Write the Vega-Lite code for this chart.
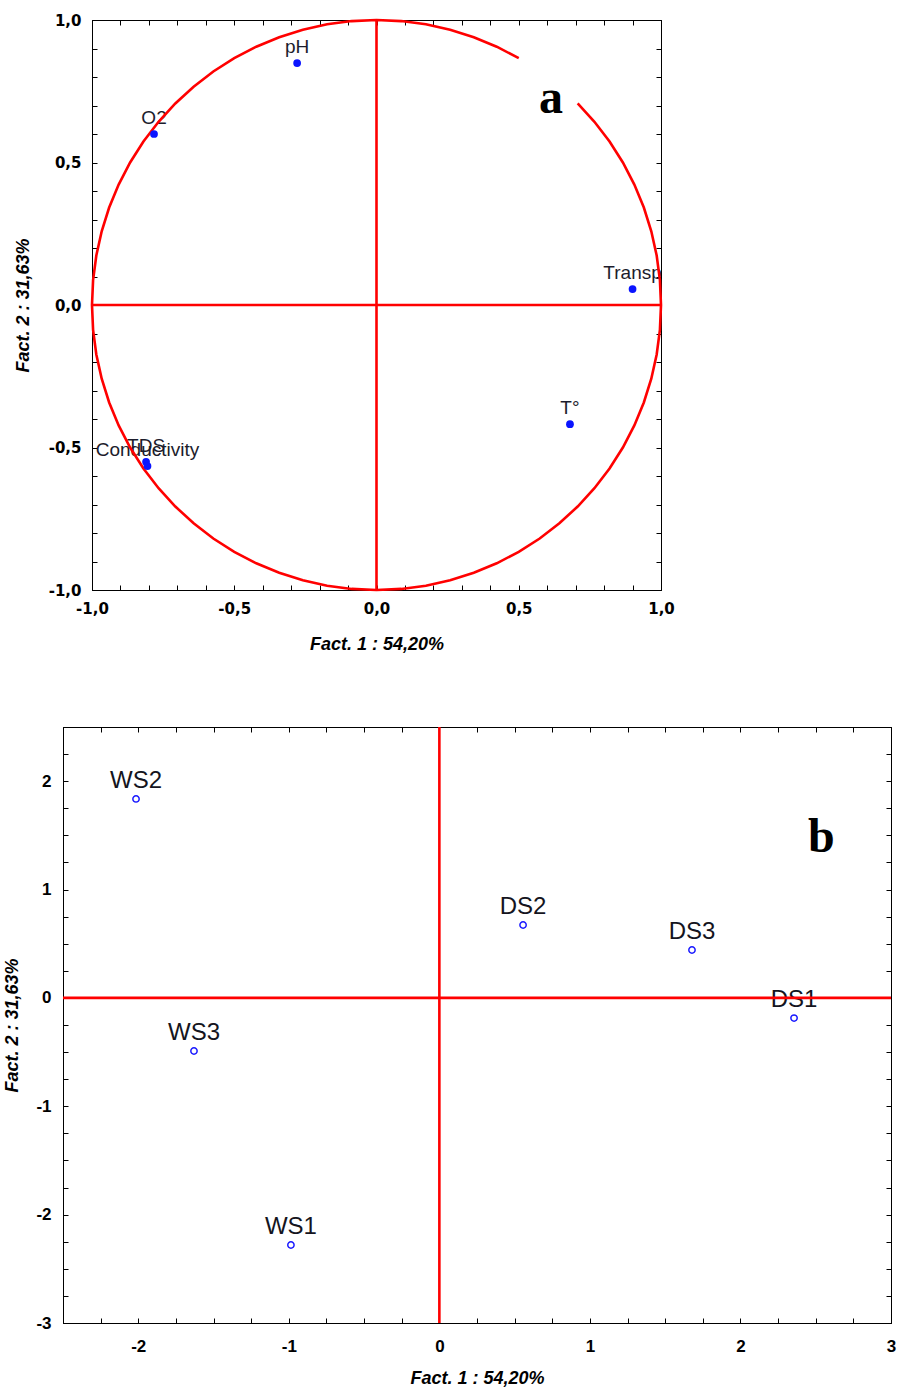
{
  "$schema": "https://vega.github.io/schema/vega-lite/v6.json",
  "background": "white",
  "padding": {"left": 3, "top": 12, "right": 0, "bottom": 0},
  "config": {
    "font": "Liberation Sans",
    "view": {"stroke": "black", "strokeWidth": 1},
    "axis": {"grid": false, "domainColor": "black", "tickColor": "black", "tickSize": -5, "labelFont": "Liberation Sans", "labelFontWeight": "bold", "labelColor": "black", "titleFont": "Liberation Sans", "titleFontWeight": "bold", "titleFontStyle": "italic", "titleColor": "black", "labelFlush": false, "labelOverlap": false, "labelBound": false}
  },
  "datasets": {
    "circle": [
      {"i":0,"x":0.5,"y":0.866},{"i":1,"x":0.4226,"y":0.9063},{"i":2,"x":0.342,"y":0.9397},{"i":3,"x":0.2588,"y":0.9659},{"i":4,"x":0.1736,"y":0.9848},{"i":5,"x":0.0872,"y":0.9962},{"i":6,"x":0,"y":1},{"i":7,"x":-0.0872,"y":0.9962},{"i":8,"x":-0.1736,"y":0.9848},{"i":9,"x":-0.2588,"y":0.9659},{"i":10,"x":-0.342,"y":0.9397},{"i":11,"x":-0.4226,"y":0.9063},{"i":12,"x":-0.5,"y":0.866},{"i":13,"x":-0.5736,"y":0.8192},{"i":14,"x":-0.6428,"y":0.766},{"i":15,"x":-0.7071,"y":0.7071},{"i":16,"x":-0.766,"y":0.6428},{"i":17,"x":-0.8192,"y":0.5736},{"i":18,"x":-0.866,"y":0.5},{"i":19,"x":-0.9063,"y":0.4226},{"i":20,"x":-0.9397,"y":0.342},{"i":21,"x":-0.9659,"y":0.2588},{"i":22,"x":-0.9848,"y":0.1736},{"i":23,"x":-0.9962,"y":0.0872},{"i":24,"x":-1,"y":0},{"i":25,"x":-0.9962,"y":-0.0872},{"i":26,"x":-0.9848,"y":-0.1736},{"i":27,"x":-0.9659,"y":-0.2588},{"i":28,"x":-0.9397,"y":-0.342},{"i":29,"x":-0.9063,"y":-0.4226},{"i":30,"x":-0.866,"y":-0.5},{"i":31,"x":-0.8192,"y":-0.5736},{"i":32,"x":-0.766,"y":-0.6428},{"i":33,"x":-0.7071,"y":-0.7071},{"i":34,"x":-0.6428,"y":-0.766},{"i":35,"x":-0.5736,"y":-0.8192},{"i":36,"x":-0.5,"y":-0.866},{"i":37,"x":-0.4226,"y":-0.9063},{"i":38,"x":-0.342,"y":-0.9397},{"i":39,"x":-0.2588,"y":-0.9659},{"i":40,"x":-0.1736,"y":-0.9848},{"i":41,"x":-0.0872,"y":-0.9962},{"i":42,"x":0,"y":-1},{"i":43,"x":0.0872,"y":-0.9962},{"i":44,"x":0.1736,"y":-0.9848},{"i":45,"x":0.2588,"y":-0.9659},{"i":46,"x":0.342,"y":-0.9397},{"i":47,"x":0.4226,"y":-0.9063},{"i":48,"x":0.5,"y":-0.866},{"i":49,"x":0.5736,"y":-0.8192},{"i":50,"x":0.6428,"y":-0.766},{"i":51,"x":0.7071,"y":-0.7071},{"i":52,"x":0.766,"y":-0.6428},{"i":53,"x":0.8192,"y":-0.5736},{"i":54,"x":0.866,"y":-0.5},{"i":55,"x":0.9063,"y":-0.4226},{"i":56,"x":0.9397,"y":-0.342},{"i":57,"x":0.9659,"y":-0.2588},{"i":58,"x":0.9848,"y":-0.1736},{"i":59,"x":0.9962,"y":-0.0872},{"i":60,"x":1,"y":0},{"i":61,"x":0.9962,"y":0.0872},{"i":62,"x":0.9848,"y":0.1736},{"i":63,"x":0.9659,"y":0.2588},{"i":64,"x":0.9397,"y":0.342},{"i":65,"x":0.9063,"y":0.4226},{"i":66,"x":0.866,"y":0.5},{"i":67,"x":0.8192,"y":0.5736},{"i":68,"x":0.766,"y":0.6428},{"i":69,"x":0.7071,"y":0.7071}
    ],
    "vars": [
      {"name":"pH","x":-0.279,"y":0.849},
      {"name":"O2","x":-0.782,"y":0.6},
      {"name":"Transp","x":0.9,"y":0.056},
      {"name":"T°","x":0.68,"y":-0.418},
      {"name":"TDS","x":-0.81,"y":-0.55},
      {"name":"Conductivity","x":-0.805,"y":-0.565}
    ],
    "sites": [
      {"name":"WS2","x":-2.015,"y":1.836},
      {"name":"DS2","x":0.556,"y":0.673},
      {"name":"DS3","x":1.678,"y":0.442},
      {"name":"DS1","x":2.356,"y":-0.186},
      {"name":"WS3","x":-1.63,"y":-0.49},
      {"name":"WS1","x":-0.986,"y":-2.28}
    ]
  },
  "spacing": 63,
  "vconcat": [
    {
      "spacing": 1,
      "bounds": "flush",
      "hconcat": [
        {
          "width": 28, "height": 570,
          "view": {"stroke": null},
          "data": {"values": [{"s": ""}]},
          "mark": {"type": "text"},
          "encoding": {"text": {"field": "s"}}
        },
        {
          "width": 569, "height": 570,
          "resolve": {"axis": {"x": "independent", "y": "independent"}},
          "layer": [
            {
              "data": {"name": "vars"},
              "mark": {"type": "text", "fontSize": 19, "color": "#1c1c2c", "dy": -10, "baseline": "alphabetic", "align": "center", "clip": true},
              "encoding": {
                "x": {"field": "x", "type": "quantitative", "scale": {"domain": [-1, 1], "nice": false, "zero": false},
                  "axis": {"orient": "bottom", "values": [-1,-0.9,-0.8,-0.7,-0.6,-0.5,-0.4,-0.3,-0.2,-0.1,0,0.1,0.2,0.3,0.4,0.5,0.6,0.7,0.8,0.9,1],
                    "labelExpr": "abs(datum.value*2 - round(datum.value*2)) < 0.001 ? replace(replace(format(datum.value, '.1f'), '−', '-'), '.', ',') : ''",
                    "labelFont": "DejaVu Sans", "labelFontSize": 15, "labelPadding": 16, "title": "Fact. 1 : 54,20%", "titleFontSize": 18, "titlePadding": 19}},
                "y": {"field": "y", "type": "quantitative", "scale": {"domain": [-1, 1], "nice": false, "zero": false},
                  "axis": {"orient": "left", "values": [-1,-0.9,-0.8,-0.7,-0.6,-0.5,-0.4,-0.3,-0.2,-0.1,0,0.1,0.2,0.3,0.4,0.5,0.6,0.7,0.8,0.9,1],
                    "labelExpr": "abs(datum.value*2 - round(datum.value*2)) < 0.001 ? replace(replace(format(datum.value, '.1f'), '−', '-'), '.', ',') : ''",
                    "labelFont": "DejaVu Sans", "labelFontSize": 15, "labelPadding": 16, "title": "Fact. 2 : 31,63%", "titleFontSize": 18, "titlePadding": 16}},
                "text": {"field": "name"}
              }
            },
            {
              "data": {"name": "circle"},
              "mark": {"type": "line", "color": "#ff0000", "strokeWidth": 2.6},
              "encoding": {
                "x": {"field": "x", "type": "quantitative", "scale": {"domain": [-1, 1], "nice": false, "zero": false}, "axis": null},
                "y": {"field": "y", "type": "quantitative", "scale": {"domain": [-1, 1], "nice": false, "zero": false}, "axis": null},
                "order": {"field": "i", "type": "quantitative"}
              }
            },
            {
              "data": {"values": [{"v": 0}]},
              "mark": {"type": "rule", "color": "#ff0000", "strokeWidth": 2.6},
              "encoding": {"x": {"field": "v", "type": "quantitative", "axis": null}}
            },
            {
              "data": {"values": [{"v": 0}]},
              "mark": {"type": "rule", "color": "#ff0000", "strokeWidth": 2.6},
              "encoding": {"y": {"field": "v", "type": "quantitative", "axis": null}}
            },
            {
              "data": {"name": "vars"},
              "mark": {"type": "point", "filled": true, "color": "#0a14ff", "size": 60, "opacity": 1},
              "encoding": {
                "x": {"field": "x", "type": "quantitative", "scale": {"domain": [-1, 1], "nice": false, "zero": false},
                  "axis": {"orient": "top", "values": [-1,-0.9,-0.8,-0.7,-0.6,-0.5,-0.4,-0.3,-0.2,-0.1,0,0.1,0.2,0.3,0.4,0.5,0.6,0.7,0.8,0.9,1], "labels": false, "title": null}},
                "y": {"field": "y", "type": "quantitative", "scale": {"domain": [-1, 1], "nice": false, "zero": false},
                  "axis": {"orient": "right", "values": [-1,-0.9,-0.8,-0.7,-0.6,-0.5,-0.4,-0.3,-0.2,-0.1,0,0.1,0.2,0.3,0.4,0.5,0.6,0.7,0.8,0.9,1], "labels": false, "title": null}}
              }
            },
            {
              "data": {"values": [{"t": "a", "x": 0.613, "y": 0.674}]},
              "mark": {"type": "text", "font": "Liberation Serif", "fontWeight": "bold", "fontSize": 48, "color": "black", "baseline": "alphabetic", "align": "center"},
              "encoding": {
                "x": {"field": "x", "type": "quantitative", "axis": null},
                "y": {"field": "y", "type": "quantitative", "axis": null},
                "text": {"field": "t"}
              }
            }
          ]
        }
      ]
    },
    {
      "width": 828, "height": 596,
      "resolve": {"axis": {"x": "independent", "y": "independent"}},
      "layer": [
        {
          "data": {"name": "sites"},
          "mark": {"type": "text", "fontSize": 24, "color": "#141420", "dy": -11, "baseline": "alphabetic", "align": "center"},
          "encoding": {
            "x": {"field": "x", "type": "quantitative", "scale": {"domain": [-2.5, 3], "nice": false, "zero": false},
              "axis": {"orient": "bottom", "values": [-2.5,-2.25,-2,-1.75,-1.5,-1.25,-1,-0.75,-0.5,-0.25,0,0.25,0.5,0.75,1,1.25,1.5,1.75,2,2.25,2.5,2.75,3],
                "labelExpr": "datum.value == round(datum.value) ? '' + datum.value : ''",
                "labelFontSize": 17, "labelPadding": 20, "title": "Fact. 1 : 54,20%", "titleFontSize": 18, "titlePadding": 15}},
            "y": {"field": "y", "type": "quantitative", "scale": {"domain": [-3, 2.5], "nice": false, "zero": false},
              "axis": {"orient": "left", "values": [-3,-2.75,-2.5,-2.25,-2,-1.75,-1.5,-1.25,-1,-0.75,-0.5,-0.25,0,0.25,0.5,0.75,1,1.25,1.5,1.75,2,2.25,2.5],
                "labelExpr": "datum.value == round(datum.value) ? '' + datum.value : ''",
                "labelFontSize": 17, "labelPadding": 17, "title": "Fact. 2 : 31,63%", "titleFontSize": 18, "titlePadding": 14}},
            "text": {"field": "name"}
          }
        },
        {
          "data": {"values": [{"v": 0}]},
          "mark": {"type": "rule", "color": "#ff0000", "strokeWidth": 2.6},
          "encoding": {"x": {"field": "v", "type": "quantitative", "axis": null}}
        },
        {
          "data": {"values": [{"v": 0}]},
          "mark": {"type": "rule", "color": "#ff0000", "strokeWidth": 2.6},
          "encoding": {"y": {"field": "v", "type": "quantitative", "axis": null}}
        },
        {
          "data": {"name": "sites"},
          "mark": {"type": "point", "filled": false, "color": "#1a1aff", "size": 40, "strokeWidth": 1.5, "opacity": 1},
          "encoding": {
            "x": {"field": "x", "type": "quantitative", "scale": {"domain": [-2.5, 3], "nice": false, "zero": false},
              "axis": {"orient": "top", "values": [-2.5,-2.25,-2,-1.75,-1.5,-1.25,-1,-0.75,-0.5,-0.25,0,0.25,0.5,0.75,1,1.25,1.5,1.75,2,2.25,2.5,2.75,3], "labels": false, "title": null}},
            "y": {"field": "y", "type": "quantitative", "scale": {"domain": [-3, 2.5], "nice": false, "zero": false},
              "axis": {"orient": "right", "values": [-3,-2.75,-2.5,-2.25,-2,-1.75,-1.5,-1.25,-1,-0.75,-0.5,-0.25,0,0.25,0.5,0.75,1,1.25,1.5,1.75,2,2.25,2.5], "labels": false, "title": null}}
          }
        },
        {
          "data": {"values": [{"t": "b", "x": 2.538, "y": 1.346}]},
          "mark": {"type": "text", "font": "Liberation Serif", "fontWeight": "bold", "fontSize": 48, "color": "black", "baseline": "alphabetic", "align": "center"},
          "encoding": {
            "x": {"field": "x", "type": "quantitative", "axis": null},
            "y": {"field": "y", "type": "quantitative", "axis": null},
            "text": {"field": "t"}
          }
        }
      ]
    }
  ]
}
